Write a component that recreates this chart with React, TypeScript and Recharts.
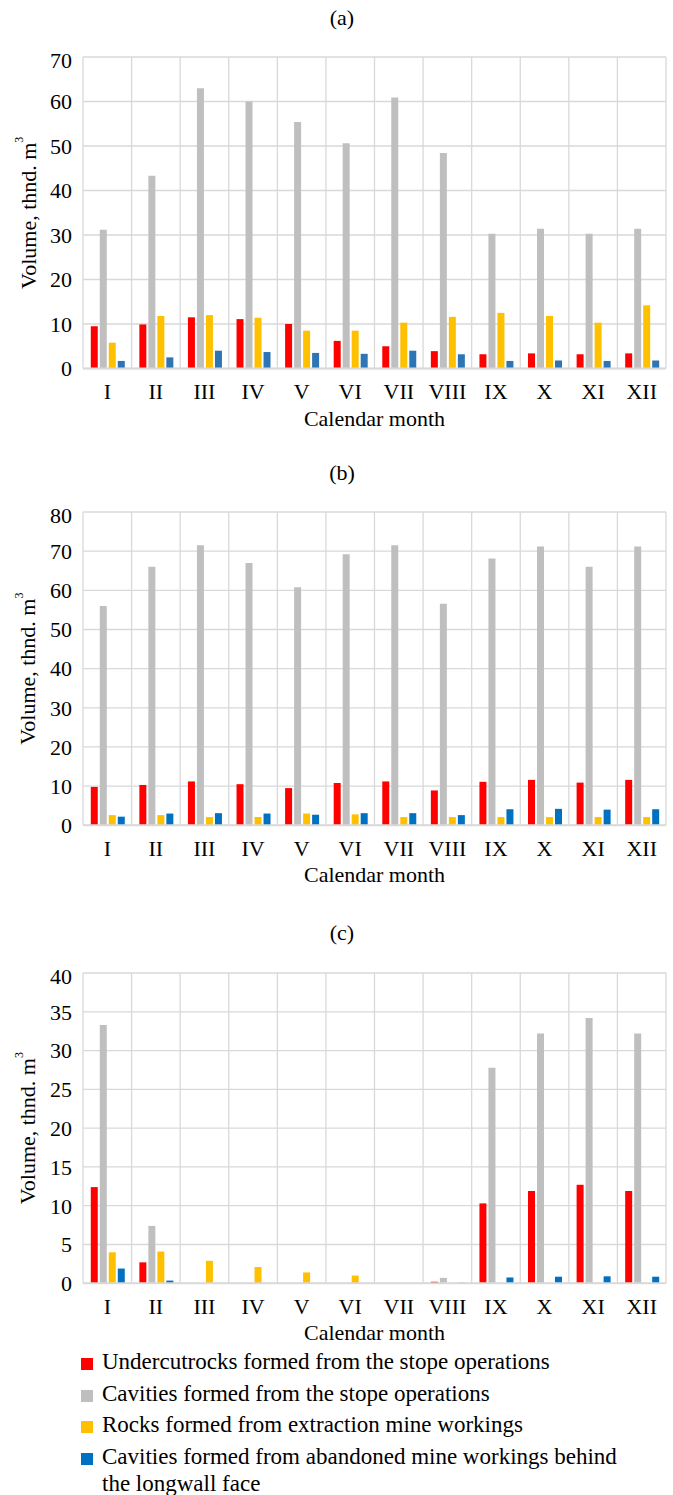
import { Bar, BarChart, CartesianGrid, XAxis, YAxis } from "recharts";

const months = ["I", "II", "III", "IV", "V", "VI", "VII", "VIII", "IX", "X", "XI", "XII"];

const seriesNames = [
  "Undercutrocks formed from the stope operations",
  "Cavities formed from the stope operations",
  "Rocks formed from extraction mine workings",
  "Cavities formed from abandoned mine workings behind the longwall face",
];

// (a)
const aUndercut = [9.5, 9.9, 11.5, 11.1, 10.0, 6.2, 5.0, 3.9, 3.2, 3.4, 3.2, 3.4];
const aCavStope = [31.2, 43.3, 63.0, 60.0, 55.4, 50.6, 60.9, 48.4, 30.3, 31.4, 30.3, 31.4];
const aRocks = [5.8, 11.8, 12.0, 11.4, 8.5, 8.5, 10.3, 11.6, 12.5, 11.8, 10.3, 14.2];
const aCavAband = [1.7, 2.5, 4.0, 3.7, 3.5, 3.3, 4.0, 3.2, 1.7, 1.8, 1.7, 1.8];
const aTicks = [0, 10, 20, 30, 40, 50, 60, 70];

// (b)
const bUndercut = [9.8, 10.3, 11.2, 10.5, 9.5, 10.8, 11.2, 8.9, 11.1, 11.6, 10.9, 11.6];
const bCavStope = [56.0, 66.0, 71.5, 67.0, 60.8, 69.2, 71.5, 56.6, 68.1, 71.2, 66.0, 71.2];
const bRocks = [2.6, 2.6, 2.1, 2.1, 3.0, 2.8, 2.1, 2.1, 2.1, 2.1, 2.1, 2.1];
const bCavAband = [2.2, 3.0, 3.1, 3.0, 2.7, 3.1, 3.1, 2.6, 4.1, 4.2, 4.0, 4.1];
const bTicks = [0, 10, 20, 30, 40, 50, 60, 70, 80];

// (c)
const cUndercut = [12.4, 2.7, 0, 0, 0, 0, 0, 0.2, 10.3, 11.9, 12.7, 11.9];
const cCavStope = [33.3, 7.4, 0, 0, 0, 0, 0, 0.7, 27.8, 32.2, 34.2, 32.2];
const cRocks = [4.0, 4.1, 2.9, 2.1, 1.4, 1.0, 0, 0, 0, 0, 0, 0];
const cCavAband = [1.9, 0.35, 0, 0, 0, 0, 0, 0.08, 0.75, 0.85, 0.9, 0.85];
const cTicks = [0, 5, 10, 15, 20, 25, 30, 35, 40];

const FONT = "Liberation Serif";
const GRID = "#d9d9d9";
const colorsA = ["#FF0000", "#BFBFBF", "#FFC000", "#2E75B6"];
const colorsBC = ["#FF0000", "#BFBFBF", "#FFC000", "#0070C0"];
const keys = ["undercut", "cavStope", "rocks", "cavAband"];

const build = (s: number[][]) =>
  months.map((m, i) => ({
    month: m,
    undercut: s[0][i],
    cavStope: s[1][i],
    rocks: s[2][i],
    cavAband: s[3][i],
  }));

const YLabel = ({ viewBox }: any) => {
  const cx = viewBox.x + 28;
  const cy = viewBox.y + viewBox.height / 2;
  return (
    <text
      x={cx}
      y={cy}
      transform={`rotate(-90 ${cx} ${cy})`}
      textAnchor="middle"
      dominantBaseline="central"
      fontFamily={FONT}
      fontSize={22}
      fill="#000"
    >
      Volume, thnd. m
      <tspan dy={-9} fontSize={12}>3</tspan>
    </text>
  );
};

interface PanelProps {
  title: string;
  titleY: number;
  top: number;
  plotH: number;
  data: ReturnType<typeof build>;
  ticks: number[];
  colors: string[];
}

const Panel = ({ title, titleY, top, plotH, data, ticks, colors }: PanelProps) => (
  <>
    <div
      style={{
        position: "absolute",
        left: 0,
        width: 684,
        top: titleY - 14,
        height: 28,
        lineHeight: "28px",
        textAlign: "center",
        fontFamily: FONT,
        fontSize: 22,
      }}
    >
      {title}
    </div>
    <div style={{ position: "absolute", left: 0, top: top - 10 }}>
      <BarChart
        width={673}
        height={plotH + 80}
        data={data}
        margin={{ top: 10, right: 7, bottom: 10, left: 0 }}
        barCategoryGap="16%"
        barGap={2}
      >
        <CartesianGrid
          stroke={GRID}
          strokeWidth={1.3}
          verticalCoordinatesGenerator={({ offset }: any) =>
            months.concat([""]).map((_, i) => offset.left + (i * offset.width) / months.length)
          }
        />
        <XAxis
          dataKey="month"
          height={60}
          axisLine={{ stroke: GRID, strokeWidth: 2 }}
          tickLine={false}
          tickSize={0}
          tickMargin={15}
          interval={0}
          tick={{ fill: "#000", fontSize: 22, fontFamily: FONT }}
          label={{
            value: "Calendar month",
            position: "insideBottom",
            offset: 3,
            fill: "#000",
            fontSize: 22,
            fontFamily: FONT,
          }}
        />
        <YAxis
          width={83}
          domain={[ticks[0], ticks[ticks.length - 1]]}
          ticks={ticks}
          axisLine={false}
          tickLine={false}
          tickSize={0}
          tickMargin={11}
          tick={{ fill: "#000", fontSize: 22, fontFamily: FONT }}
          label={<YLabel />}
        />
        {keys.map((k, i) => (
          <Bar key={k} dataKey={k} name={seriesNames[i]} fill={colors[i]} isAnimationActive={false} />
        ))}
      </BarChart>
    </div>
  </>
);

export default function App() {
  return (
    <div
      style={{
        position: "absolute",
        left: 0,
        top: 0,
        width: 673,
        height: 1495,
        background: "#fff",
        fontFamily: FONT,
      }}
    >
      <Panel
        title="(a)"
        titleY={18}
        top={56.5}
        plotH={311.5}
        data={build([aUndercut, aCavStope, aRocks, aCavAband])}
        ticks={aTicks}
        colors={colorsA}
      />
      <Panel
        title="(b)"
        titleY={473}
        top={511.7}
        plotH={313.3}
        data={build([bUndercut, bCavStope, bRocks, bCavAband])}
        ticks={bTicks}
        colors={colorsBC}
      />
      <Panel
        title="(c)"
        titleY={933}
        top={972.7}
        plotH={310.3}
        data={build([cUndercut, cCavStope, cRocks, cCavAband])}
        ticks={cTicks}
        colors={colorsBC}
      />
      <div style={{ position: "absolute", left: 81, top: 1348, width: 552 }}>
        {seriesNames.map((n, i) => (
          <div
            key={n}
            style={{
              position: "relative",
              paddingLeft: 21,
              fontSize: 23,
              lineHeight: "27px",
              marginBottom: 4.5,
              color: "#000",
            }}
          >
            <span
              style={{
                position: "absolute",
                left: 0,
                top: 10,
                width: 12,
                height: 12,
                background: colorsBC[i],
              }}
            />
            {n}
          </div>
        ))}
      </div>
    </div>
  );
}
